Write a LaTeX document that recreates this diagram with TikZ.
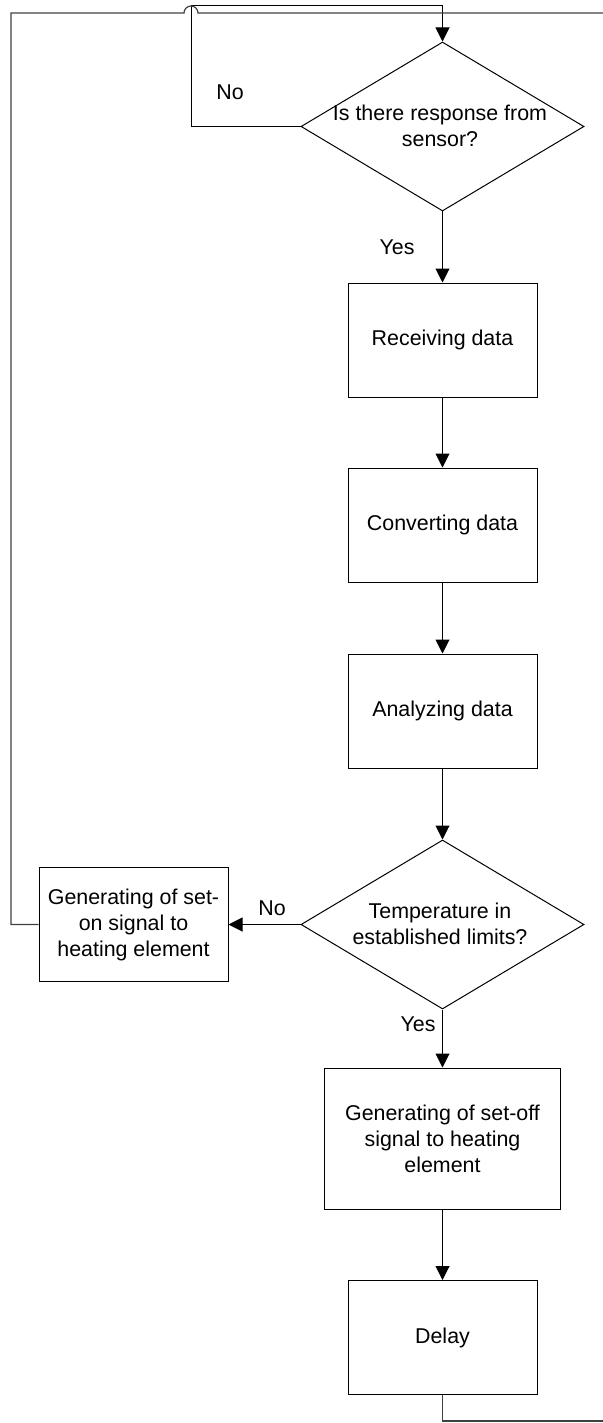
\documentclass[tikz,border=0pt]{standalone}
\usepackage{fontspec}
\setmainfont{Liberation Sans}
\usetikzlibrary{shapes.geometric,arrows.meta}
\begin{document}
\begin{tikzpicture}[x=0.5pt,y=-0.5pt,
  line width=0.5pt,
  txt/.style={font=\fontsize{10.7}{13}\selectfont, align=center},
  proc/.style={draw, rectangle, minimum width=94.5pt, minimum height=57pt, inner sep=0pt, txt},
  dec/.style={draw, diamond, minimum width=141.5pt, minimum height=84.5pt, inner sep=0pt},
  lbl/.style={font=\fontsize{10.7}{13}\selectfont, inner sep=0pt},
  arr/.style={-{Triangle[length=7pt,width=7pt]}},
  loopline/.style={draw=black!75, line width=0.6pt}]
\useasboundingbox (0,0) rectangle (603,1423);

% decisions
\node[dec] (d1) at (442.5,126.5) {};
\node[txt, inner sep=0pt] (d1t) at (440,126) {Is there response from\\sensor?};
\node[dec] (d2) at (442.5,924.5) {};
\node[txt, inner sep=0pt] (d2t) at (440,924) {Temperature in\\established limits?};

% processes
\node[proc] (recv) at (442.5,340) {Receiving data};
\node[proc] (conv) at (442.5,525) {Converting data};
\node[proc] (anal) at (442.5,711) {Analyzing data};
\node[proc] (seton) at (133.5,924.5) {Generating of set-\\on signal to\\heating element};
\node[proc, minimum width=118pt, minimum height=70.5pt] (setoff) at (442.5,1138.5) {Generating of set-off\\signal to heating\\element};
\node[proc] (delay) at (442.5,1337.5) {Delay};

% labels
\node[lbl] (no1) at (230,92) {No};
\node[lbl] (yes1) at (397,247) {Yes};
\node[lbl] (no2) at (272,908) {No};
\node[lbl] (yes2) at (418,1024) {Yes};

% free ends / bends
\coordinate (a1) at (191,126.5);
\coordinate (a2) at (191,6);
\coordinate (a3) at (442.5,6);
\coordinate (b1) at (11,924.5);
\coordinate (b2) at (11,13);
\coordinate (b3) at (184,13);
\coordinate (b4) at (603,13);
\coordinate (c1) at (442.5,1421);
\coordinate (c2) at (603,1421);

% connectors
\draw[arr] (d1.west) -- (a1) -- (a2) -- (a3) -- (d1.north);
\draw[arr] (d1.south) -- (recv.north);
\draw[arr] (recv.south) -- (conv.north);
\draw[arr] (conv.south) -- (anal.north);
\draw[arr] (anal.south) -- (d2.north);
\draw[arr] (d2.west) -- (seton.east);
\draw[arr] (d2.south) -- (setoff.north);
\draw[arr] (setoff.south) -- (delay.north);
\draw[loopline] (seton.west) -- (b1) -- (b2) -- (b3) arc[start angle=180, end angle=0, radius=3.5pt] -- (b4);
\draw[loopline] (delay.south) -- (c1) -- (c2);
\end{tikzpicture}
\end{document}
